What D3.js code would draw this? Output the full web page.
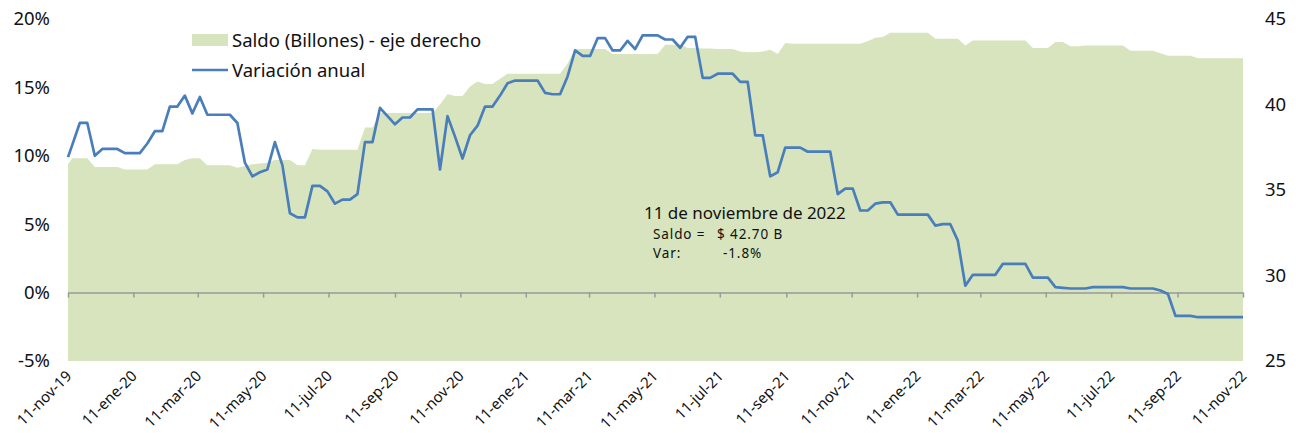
<!DOCTYPE html>
<html>
<head>
<meta charset="utf-8">
<script src="https://cdn.jsdelivr.net/npm/d3@7"></script>
<style>
  body { margin: 0; background: #fff; }
  text { font-family: "Noto Sans", "Open Sans", sans-serif; fill: #111; }
</style>
</head>
<body>
<div id="chart"></div>
<script>
// weekly series: first point 11-nov-19, then every Friday from 15-nov-19 to 11-nov-22
var firstDate = "2019-11-11",
    weeklyStart = "2019-11-15",
    weekCount = 157;

// Variación anual (%)
var variacion = [9.9,
  10.8, 12.4, 12.4, 10.0, 10.5, 10.5, 10.5, 10.2, 10.2, 10.2,
  10.9, 11.8, 11.8, 13.6, 13.6, 14.4, 13.1, 14.3, 13.0, 13.0,
  13.0, 13.0, 12.4, 9.5, 8.5, 8.8, 9.0, 11.0, 9.3, 5.8,
  5.5, 5.5, 7.8, 7.8, 7.4, 6.5, 6.8, 6.8, 7.2, 11.0,
  11.0, 13.5, 12.9, 12.3, 12.8, 12.8, 13.4, 13.4, 13.4, 9.0,
  12.9, 11.4, 9.8, 11.5, 12.2, 13.6, 13.6, 14.4, 15.3, 15.5,
  15.5, 15.5, 15.5, 14.6, 14.5, 14.5, 15.8, 17.7, 17.3, 17.3,
  18.6, 18.6, 17.7, 17.7, 18.4, 17.8, 18.8, 18.8, 18.8, 18.5,
  18.5, 17.9, 18.7, 18.7, 15.7, 15.7, 16.0, 16.0, 16.0, 15.4,
  15.4, 11.5, 11.5, 8.5, 8.8, 10.6, 10.6, 10.6, 10.3, 10.3,
  10.3, 10.3, 7.2, 7.6, 7.6, 6.0, 6.0, 6.5, 6.6, 6.6,
  5.7, 5.7, 5.7, 5.7, 5.7, 4.9, 5.0, 5.0, 3.8, 0.5,
  1.3, 1.3, 1.3, 1.3, 2.1, 2.1, 2.1, 2.1, 1.1, 1.1,
  1.1, 0.4, 0.35, 0.3, 0.3, 0.3, 0.4, 0.4, 0.4, 0.4,
  0.4, 0.3, 0.3, 0.3, 0.3, 0.15, -0.1, -1.7, -1.7, -1.7,
  -1.8, -1.8, -1.8, -1.8, -1.8, -1.8, -1.8];

// Saldo (billones) - eje derecho
var saldo = [36.5,
  36.85, 36.85, 36.85, 36.35, 36.35, 36.35, 36.35, 36.2, 36.2, 36.2,
  36.2, 36.5, 36.5, 36.5, 36.5, 36.75, 36.85, 36.85, 36.45, 36.45,
  36.45, 36.45, 36.3, 36.4, 36.5, 36.55, 36.6, 36.75, 36.75, 36.75,
  36.45, 36.45, 37.4, 37.35, 37.35, 37.35, 37.35, 37.35, 37.35, 38.65,
  38.65, 39.5, 39.5, 39.5, 39.5, 39.5, 39.5, 39.5, 39.5, 40.0,
  40.6, 40.5, 40.5, 41.05, 41.35, 41.2, 41.2, 41.5, 41.8, 41.8,
  41.8, 41.8, 41.8, 41.8, 41.8, 41.8, 42.4, 43.25, 43.25, 43.25,
  43.25, 43.25, 42.95, 42.95, 42.95, 42.95, 42.95, 42.95, 42.95, 43.5,
  43.5, 43.5, 43.3, 43.3, 43.28, 43.27, 43.25, 43.25, 43.25, 43.1,
  43.05, 43.05, 43.1, 43.2, 42.95, 43.6, 43.55, 43.55, 43.55, 43.55,
  43.55, 43.55, 43.55, 43.55, 43.55, 43.55, 43.7, 43.9, 43.95, 44.2,
  44.2, 44.2, 44.2, 44.2, 44.2, 43.85, 43.85, 43.85, 43.85, 43.45,
  43.75, 43.75, 43.75, 43.75, 43.75, 43.75, 43.75, 43.75, 43.3, 43.3,
  43.3, 43.65, 43.65, 43.4, 43.4, 43.45, 43.45, 43.45, 43.45, 43.45,
  43.45, 43.15, 43.15, 43.15, 43.15, 43.0, 42.85, 42.85, 42.85, 42.85,
  42.7, 42.7, 42.7, 42.7, 42.7, 42.7, 42.7];

var tickDates = ["2019-11-11", "2020-01-11", "2020-03-11", "2020-05-11", "2020-07-11",
  "2020-09-11", "2020-11-11", "2021-01-11", "2021-03-11", "2021-05-11", "2021-07-11",
  "2021-09-11", "2021-11-11", "2022-01-11", "2022-03-11", "2022-05-11", "2022-07-11",
  "2022-09-11", "2022-11-11"];
var leftTicks = [-5, 0, 5, 10, 15, 20];
var rightTicks = [25, 30, 35, 40, 45];
var seriesNames = ["Saldo (Billones) - eje derecho", "Variación anual"];

var W = 1296, H = 433;
var plot = {left: 68, right: 1243, top: 19, bottom: 361};

var parse = d3.utcParse("%Y-%m-%d");
var es = d3.timeFormatLocale({
  dateTime: "%x, %X", date: "%d/%m/%Y", time: "%-H:%M:%S",
  periods: ["AM", "PM"],
  days: ["domingo", "lunes", "martes", "miércoles", "jueves", "viernes", "sábado"],
  shortDays: ["dom", "lun", "mar", "mié", "jue", "vie", "sáb"],
  months: ["enero", "febrero", "marzo", "abril", "mayo", "junio", "julio", "agosto", "septiembre", "octubre", "noviembre", "diciembre"],
  shortMonths: ["ene", "feb", "mar", "abr", "may", "jun", "jul", "ago", "sep", "oct", "nov", "dic"]
});
var fmt = es.utcFormat("%d-%b-%y");

var dates = [parse(firstDate)].concat(
  d3.range(weekCount).map(function(i) { return d3.utcDay.offset(parse(weeklyStart), 7 * i); }));

var data = dates.map(function(d, i) {
  return {date: d, v: variacion[i], s: saldo[i]};
});

var svg = d3.select("#chart").append("svg")
  .attr("width", W).attr("height", H);

var x = d3.scaleUtc()
  .domain([parse(tickDates[0]), parse(tickDates[tickDates.length - 1])])
  .range([plot.left, plot.right]);
var yL = d3.scaleLinear().domain([-5, 20]).range([plot.bottom, plot.top]);
var yR = d3.scaleLinear().domain([25, 45]).range([plot.bottom, plot.top]);

// area (right axis)
svg.append("path")
  .datum(data)
  .attr("fill", "#d7e4bd")
  .attr("d", d3.area()
    .x(function(d) { return x(d.date); })
    .y0(yR(25))
    .y1(function(d) { return yR(d.s); }));

// zero line with ticks
var zeroAxis = svg.append("g")
  .attr("transform", "translate(0," + yL(0) + ")")
  .call(d3.axisBottom(x).tickValues(tickDates.map(parse)).tickFormat("").tickSizeInner(5).tickSizeOuter(0));
zeroAxis.selectAll("path, line").attr("stroke", "#9a9a9a").attr("stroke-width", 1.5);

// line (left axis)
svg.append("path")
  .datum(data)
  .attr("fill", "none")
  .attr("stroke", "#4a7ebb")
  .attr("stroke-width", 2.7)
  .attr("stroke-linejoin", "round")
  .attr("d", d3.line()
    .x(function(d) { return x(d.date); })
    .y(function(d) { return yL(d.v); }));

// date labels
var xLab = svg.append("g")
  .attr("transform", "translate(0," + plot.bottom + ")")
  .call(d3.axisBottom(x).tickValues(tickDates.map(parse)).tickFormat(fmt).tickSize(0));
xLab.select(".domain").remove();
xLab.selectAll("text")
  .style("font-family", "Noto Sans")
  .style("font-size", "15px")
  .attr("text-anchor", "end")
  .attr("dy", null)
  .attr("y", 0)
  .attr("transform", "translate(4,16) rotate(-45)");

// left axis
var lAx = svg.append("g")
  .attr("transform", "translate(" + plot.left + ",0)")
  .call(d3.axisLeft(yL).tickValues(leftTicks).tickFormat(function(d) { return d + "%"; }).tickSize(0).tickPadding(18));
lAx.select(".domain").remove();
lAx.selectAll("text").style("font-family", "Noto Sans").style("font-size", "18.5px");

// right axis
var rAx = svg.append("g")
  .attr("transform", "translate(" + plot.right + ",0)")
  .call(d3.axisRight(yR).tickValues(rightTicks).tickSize(0).tickPadding(22));
rAx.select(".domain").remove();
rAx.selectAll("text").style("font-family", "Noto Sans").style("font-size", "18.5px");

// legend
var leg = svg.append("g");
leg.append("rect").attr("x", 192).attr("y", 34).attr("width", 36).attr("height", 12).attr("fill", "#d7e4bd");
leg.append("text").attr("x", 232).attr("y", 47).style("font-size", "18.5px").text(seriesNames[0]);
leg.append("line").attr("x1", 192).attr("x2", 228).attr("y1", 70).attr("y2", 70)
  .attr("stroke", "#4a7ebb").attr("stroke-width", 2.7);
leg.append("text").attr("x", 232).attr("y", 77).style("font-size", "18.5px").text(seriesNames[1]);

// annotation for last point
var last = data[data.length - 1];
var note = svg.append("g");
note.append("text").attr("x", 644).attr("y", 219).style("font-size", "17px")
  .text(d3.utcFormat("%d")(last.date) + " de " + es.utcFormat("%B")(last.date) + " de " + d3.utcFormat("%Y")(last.date));
note.append("text").attr("x", 653).attr("y", 239).style("font-size", "13.5px").style("letter-spacing", "0.9px").text("Saldo =");
note.append("text").attr("x", 717).attr("y", 239).style("font-size", "13.5px").style("letter-spacing", "0.9px")
  .text("$ " + last.s.toFixed(2) + " B");
note.append("text").attr("x", 653).attr("y", 258).style("font-size", "13.5px").style("letter-spacing", "0.9px").text("Var:");
note.append("text").attr("x", 723).attr("y", 258).style("font-size", "13.5px").style("letter-spacing", "0.9px")
  .text(last.v.toFixed(1) + "%");
</script>
</body>
</html>
